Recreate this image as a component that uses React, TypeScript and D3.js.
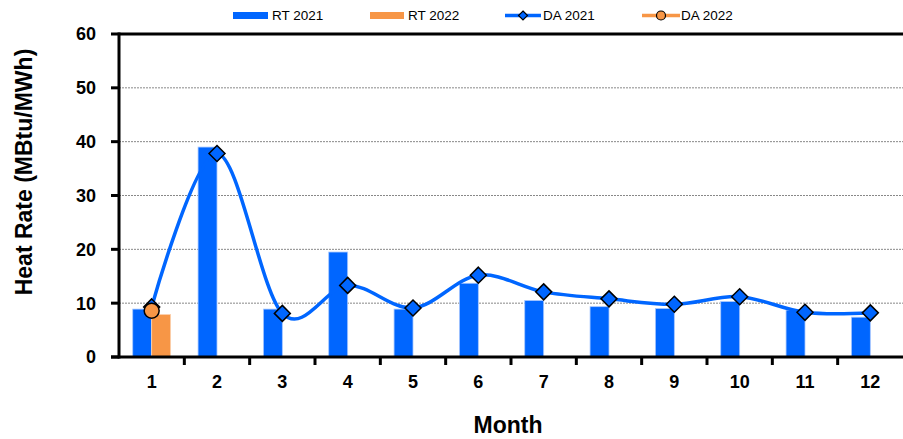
import React from "react";
import * as d3 from "d3";

const months = ["1", "2", "3", "4", "5", "6", "7", "8", "9", "10", "11", "12"];
const rt2021 = [8.9, 39.0, 8.9, 19.5, 8.9, 13.7, 10.5, 9.35, 9.0, 10.3, 8.7, 7.4];
const rt2022 = [7.9];
const da2021 = [9.3, 37.8, 8.1, 13.3, 9.1, 15.2, 12.1, 10.8, 9.8, 11.2, 8.3, 8.2];
const da2022 = [8.6];
const yTicks = [0, 10, 20, 30, 40, 50, 60];

const BLUE = "#0066FF";
const ORANGE = "#F79646";
const FONT = "'Liberation Sans', Arial, sans-serif";

export default function App() {
  const W = 903, H = 439;
  const left = 119, right = 903, top = 34, bottom = 357;
  const x = d3.scaleBand<string>().domain(months).range([left, right]).padding(0);
  const y = d3.scaleLinear().domain([0, 60]).range([bottom, top]);
  const bw = x.bandwidth() * 0.29;
  const cx = (i: number) => (x(months[i]) as number) + x.bandwidth() / 2;

  const line = d3
    .line<number>()
    .x((_, i) => cx(i))
    .y((d) => y(d))
    .curve(d3.curveCardinal.tension(0));

  const diamond = (px: number, py: number, r: number) =>
    `M${px},${py - r}L${px + r},${py}L${px},${py + r}L${px - r},${py}Z`;

  return (
    <svg width={W} height={H} style={{ position: "absolute", left: 0, top: 0, fontFamily: FONT }}>
      {/* gridlines */}
      {yTicks.filter((t) => t > 0 && t < 60).map((t) => (
        <line key={t} x1={left} x2={right} y1={y(t)} y2={y(t)} stroke="#888" strokeWidth={1} strokeDasharray="2,1" />
      ))}
      {/* bars */}
      {rt2021.map((v, i) => (
        <rect key={"a" + i} x={cx(i) - bw} y={y(v)} width={bw} height={bottom - y(v)} fill={BLUE} stroke="#a8c8ff" strokeWidth={0.8} />
      ))}
      {rt2022.map((v, i) => (
        <rect key={"b" + i} x={cx(i)} y={y(v)} width={bw} height={bottom - y(v)} fill={ORANGE} stroke="#fcd2b0" strokeWidth={0.8} />
      ))}
      {/* DA 2021 line */}
      <path d={line(da2021) || ""} fill="none" stroke={BLUE} strokeWidth={3.5} />
      {da2021.map((v, i) => (
        <path key={"d" + i} d={diamond(cx(i), y(v), 8)} fill={BLUE} stroke="#000" strokeWidth={1.5} />
      ))}
      {da2022.map((v, i) => (
        <circle key={"e" + i} cx={cx(i)} cy={y(v)} r={7.5} fill={ORANGE} stroke="#000" strokeWidth={1.5} />
      ))}
      {/* axes */}
      <line x1={left} x2={right} y1={top} y2={top} stroke="#000" strokeWidth={3} />
      <line x1={left} x2={left} y1={top - 1.5} y2={bottom + 1.5} stroke="#000" strokeWidth={3} />
      <line x1={left - 8} x2={right} y1={bottom} y2={bottom} stroke="#000" strokeWidth={3} />
      {yTicks.map((t) => (
        <g key={"yt" + t}>
          <line x1={left - 8} x2={left} y1={y(t)} y2={y(t)} stroke="#000" strokeWidth={3} />
          <text x={96} y={y(t)} dy="0.36em" textAnchor="end" fontSize={18} fontWeight="bold">{t}</text>
        </g>
      ))}
      {months.map((m, i) => (
        <g key={"xt" + m}>
          {i > 0 && <line x1={x(m) as number} x2={x(m) as number} y1={bottom} y2={bottom + 8} stroke="#000" strokeWidth={3} />}
          <text x={cx(i)} y={388} textAnchor="middle" fontSize={18} fontWeight="bold">{m}</text>
        </g>
      ))}
      <text x={508} y={433} textAnchor="middle" fontSize={23} fontWeight="bold">Month</text>
      <text transform={`translate(32,172) rotate(-90)`} textAnchor="middle" fontSize={23} fontWeight="bold">Heat Rate (MBtu/MWh)</text>
      {/* legend */}
      <g fontSize={13.5}>
        <rect x={233} y={12} width={35} height={7} fill={BLUE} />
        <text x={272} y={20}>RT 2021</text>
        <rect x={370} y={12} width={34} height={7} fill={ORANGE} />
        <text x={408} y={20}>RT 2022</text>
        <line x1={505} x2={541} y1={15.5} y2={15.5} stroke={BLUE} strokeWidth={3.5} />
        <path d={diamond(523, 15.5, 4.5)} fill={BLUE} stroke="#000" strokeWidth={1.2} />
        <text x={543} y={20}>DA 2021</text>
        <line x1={642} x2={680} y1={15.5} y2={15.5} stroke={ORANGE} strokeWidth={3.5} />
        <circle cx={661} cy={15.5} r={4.5} fill={ORANGE} stroke="#000" strokeWidth={1.2} />
        <text x={681} y={20}>DA 2022</text>
      </g>
    </svg>
  );
}
